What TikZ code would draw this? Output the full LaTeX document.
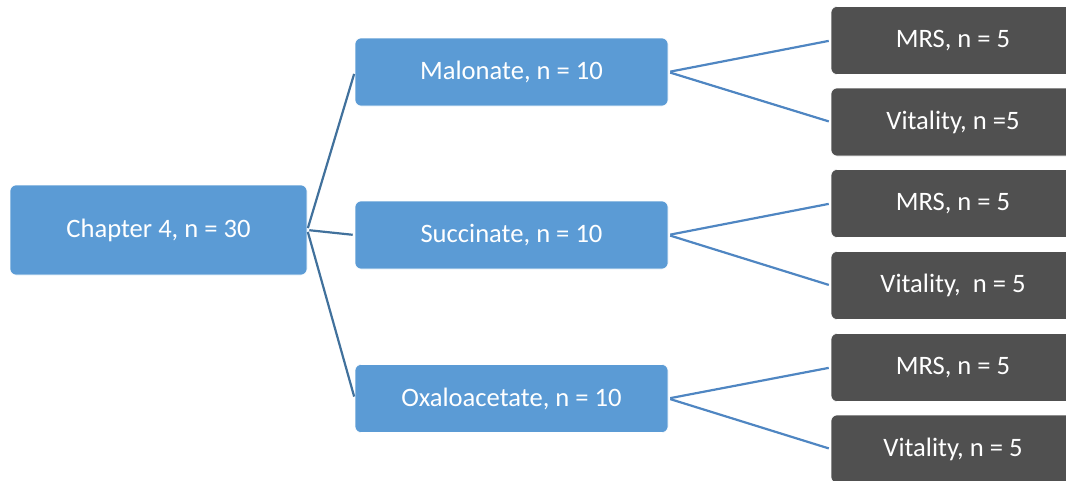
\documentclass[tikz,border=0pt]{standalone}
\usepackage{fontspec}
\setmainfont{Carlito}
\definecolor{boxblue}{HTML}{5B9BD5}
\definecolor{boxdark}{HTML}{505050}
\definecolor{linkA}{HTML}{41719C}
\definecolor{linkB}{HTML}{4F86C2}
\begin{document}
\begin{tikzpicture}[x=1pt,y=-1pt,
  base/.style={rectangle, rounded corners=6pt, draw=white, line width=0.6pt,
    text=white, font=\fontsize{26.6}{30}\selectfont, inner sep=0pt},
  rootbox/.style={base, fill=boxblue, minimum width=297pt, minimum height=90pt},
  groupbox/.style={base, fill=boxblue, minimum width=313pt, minimum height=68pt},
  leafbox/.style={base, fill=boxdark, minimum width=244pt, minimum height=68pt},
  linkone/.style={draw=linkA, line width=2.2pt, shorten <=2pt, shorten >=2pt},
  linktwo/.style={draw=linkB, line width=2.2pt, shorten <=2pt, shorten >=2pt}]
\useasboundingbox (0,0) rectangle (1066,480);
\begin{scope}
\clip (0,0) rectangle (1066,480);
% root
\node[rootbox] (ch) at (158.5,230) {Chapter 4, n = 30};
% second level
\node[groupbox] (mal) at (511.5,72) {Malonate, n = 10};
\node[groupbox] (suc) at (511.5,235) {Succinate, n = 10};
\node[groupbox] (oxa) at (511.5,398.5) {Oxaloacetate, n = 10};
% leaves
\node[leafbox] (m1) at (953,40.5) {MRS, n = 5};
\node[leafbox] (v1) at (953,122) {Vitality, n =5};
\node[leafbox] (m2) at (953,203.5) {MRS, n = 5};
\node[leafbox] (v2) at (953,285.5) {Vitality,\ \ n = 5};
\node[leafbox] (m3) at (953,367.5) {MRS, n = 5};
\node[leafbox] (v3) at (953,449) {Vitality, n = 5};
% connectors
\draw[linkone] (ch.east) -- (mal.west);
\draw[linkone] (ch.east) -- (suc.west);
\draw[linkone] (ch.east) -- (oxa.west);
\draw[linktwo] (mal.east) -- (m1.west);
\draw[linktwo] (mal.east) -- (v1.west);
\draw[linktwo] (suc.east) -- (m2.west);
\draw[linktwo] (suc.east) -- (v2.west);
\draw[linktwo] (oxa.east) -- (m3.west);
\draw[linktwo] (oxa.east) -- (v3.west);
\end{scope}
\end{tikzpicture}
\end{document}
